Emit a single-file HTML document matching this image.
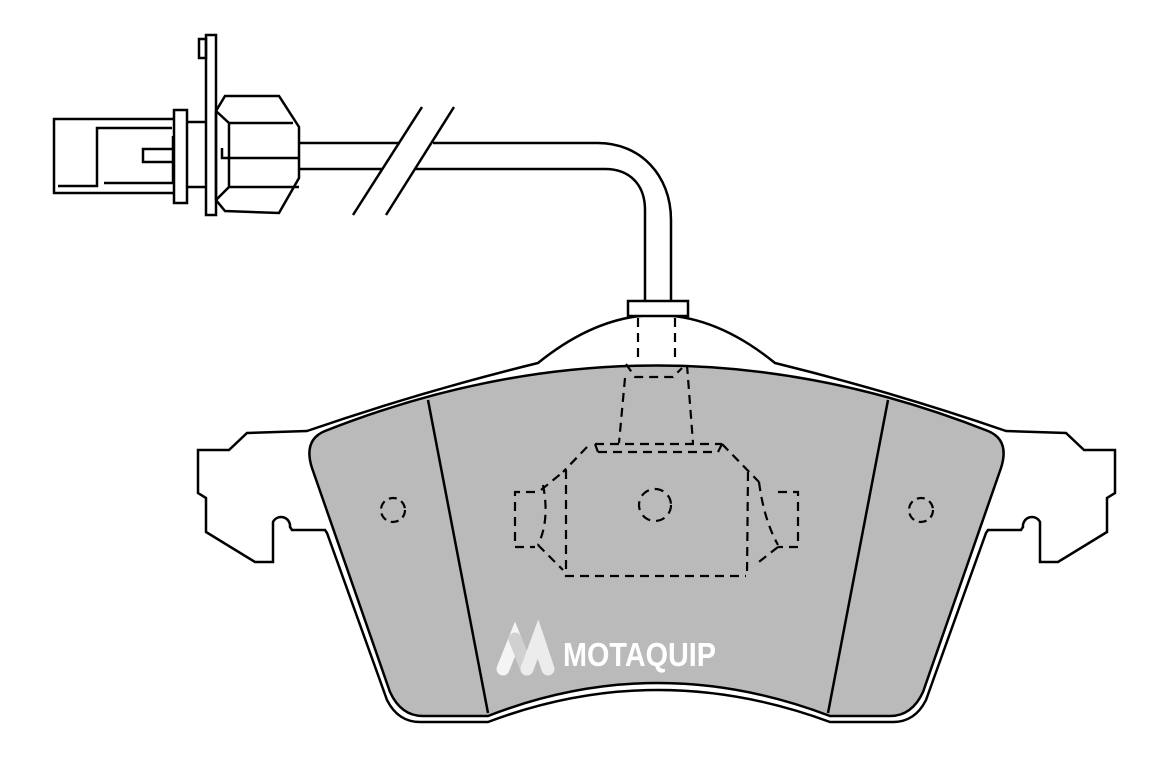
<!DOCTYPE html>
<html><head><meta charset="utf-8"><style>html,body{margin:0;padding:0;background:#fff}svg{display:block}</style></head>
<body>
<svg width="1170" height="761" viewBox="0 0 1170 761" xmlns="http://www.w3.org/2000/svg">
<g fill="none" stroke="#000" stroke-width="2.5" stroke-linejoin="miter">
<path fill="#fff" d="M307,431 Q420,392 538,363 Q657,267 775,363 Q893,392 1006,431 L1066,433 L1084,450 L1115,450 L1115,493 L1107,498 L1107,532 L1058,562 L1040,562 L1040,522 A9,9 0 0 0 1023,527 L1021,530 L988,530 L986,533 L926,700 Q915,722 893,722 L830,722 Q657,658 488,722 L420,722 Q398,722 387,700 L327,533 L325,530 L292,530 L290,527 A9,9 0 0 0 273,522 L273,562 L255,562 L206,532 L206,498 L198,493 L198,450 L229,450 L247,433 Z"/>
<path fill="#bababa" d="M312,468 Q303,440 325,431 Q657,300 988,431 Q1010,440 1001,468 L923,692 Q912,716 890,716 L830,716 Q657,650 488,716 L423,716 Q401,716 390,692 Z"/>
<line x1="428" y1="400" x2="488" y2="713"/>
<line x1="888" y1="400" x2="828" y2="713"/>
<rect x="628" y="301" width="60" height="15" fill="#fff"/>
<path d="M300,143 L400,143 M433,143 L598,143 C640,143 671,175 671,220 L671,301"/>
<path d="M300,169 L382,169 M415,169 L605,169 C630,169 645,185 645,210 L645,301"/>
<line x1="353" y1="215" x2="422" y2="107"/>
<line x1="386" y1="215" x2="454" y2="107"/>
<path d="M225,96 L279,96 L299,127 L299,178 L279,213 L225,211 L216,200 L216,111 Z"/>
<path d="M216,111 L229,123 L293,123 M229,123 L229,187 M216,200 L229,187 L299,187 M222,148 L222,158 L299,158"/>
<rect x="206" y="35" width="10" height="180"/>
<rect x="199" y="39" width="7" height="19"/>
<rect x="174" y="110" width="13" height="93"/>
<path d="M174,119 L54,119 L54,193 L174,193"/>
<path d="M187,122 L206,122 M187,187 L206,187"/>
<path d="M172,128 L97,128 L97,186 L58,186 M104,183 L173,183 L173,136"/>
<path d="M173,149 L143,149 L143,162 L173,162"/>
</g>
<g fill="none" stroke="#000" stroke-width="2.2" stroke-dasharray="9,6">
<path d="M638,318 L638,362 M675,318 L675,362"/>
<path d="M626,364 L635,377 L673,377 L682,368"/>
<path d="M625,378 L619,443 M687,365 L693,443"/>
<path d="M595,444 L722,444 M598,452 L718,452 M595,444 L598,452 M722,444 L718,452"/>
<path d="M587,447 L563,472 M566,470 L566,576 L746,576 M748,472 L747,576 M722,444 L759,482"/>
<path d="M759,482 Q764,520 778,545 M778,492 L798,492 L798,547 L778,547 M778,547 L755,565"/>
<path d="M543,485 Q550,520 538,545 M535,492 L515,492 L515,547 L535,547 M541,490 L563,472 M538,545 L563,570"/>
<circle cx="655" cy="505" r="16"/>
<circle cx="393" cy="510" r="12" stroke-dasharray="8,5"/>
<circle cx="921" cy="510" r="12" stroke-dasharray="8,5"/>
</g>
<g stroke-linecap="round" fill="none" stroke-width="13">
<path d="M503,669 L515,639 L527,669" stroke="#f4f4f4"/>
<path d="M527,669 L515,639" stroke="#d0d0d0"/>
<path d="M527,669 L538,639 L548,669" stroke="#ececec"/>
</g>
<text x="563" y="666" font-family="Liberation Sans, sans-serif" font-weight="bold" font-size="33" fill="#fff" textLength="153" lengthAdjust="spacingAndGlyphs">MOTAQUIP</text>
</svg>
</body></html>
